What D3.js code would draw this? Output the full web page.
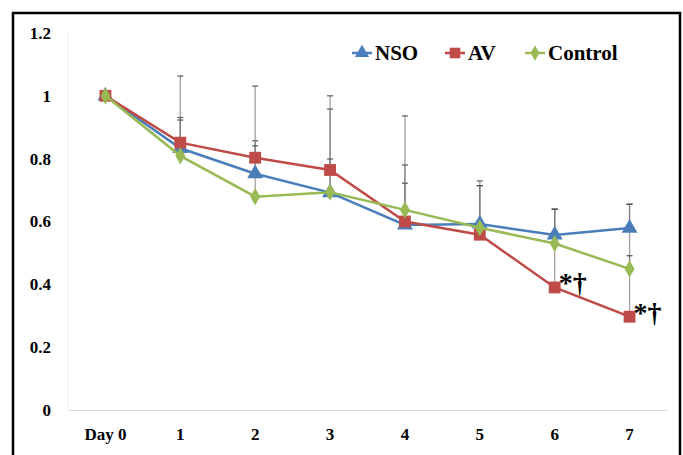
<!DOCTYPE html>
<html>
<head>
<meta charset="utf-8">
<script src="https://cdn.jsdelivr.net/npm/d3@7"></script>
<style>
  body { margin: 0; background: #fff; }
  text { font-family: "Liberation Serif", "Times New Roman", serif; font-weight: bold; fill: #000; }
  .tick text { font-size: 17px; }
</style>
</head>
<body>
<div id="chart"></div>
<script>
// data
const categories = ['Day 0', '1', '2', '3', '4', '5', '6', '7'];
const nso     = [1.0, 0.833, 0.752, 0.692, 0.589, 0.592, 0.557, 0.579];
const av      = [1.0, 0.851, 0.803, 0.764, 0.600, 0.558, 0.390, 0.297];
const control = [1.0, 0.809, 0.679, 0.693, 0.637, 0.580, 0.530, 0.449];
// upper error bars (SD)
const nsoSD     = [0, 0.098, 0.105, 0.266, 0.191, 0.137, 0.082, 0.076];
const avSD      = [0, 0.212, 0.228, 0.236, 0.336, 0.156, 0.249, 0.358];
const controlSD = [0, 0.114, 0.162, 0.106, 0.085, 0.134, 0.109, 0.042];
const yTicks = [0, 0.2, 0.4, 0.6, 0.8, 1, 1.2];
const marks = ['6', '7']; // AV days marked *†

const width = 683, height = 455;
const svg = d3.select('#chart').append('svg')
  .attr('width', width)
  .attr('height', height);

// outer frame
svg.append('rect')
  .attr('x', 13).attr('y', 13)
  .attr('width', 667).attr('height', 460)
  .attr('fill', 'none')
  .attr('stroke', '#000')
  .attr('stroke-width', 2.5);

const x = d3.scaleBand()
  .domain(categories)
  .range([68, 667])
  .padding(0);
const cx = d => x(d) + x.bandwidth() / 2;

const y = d3.scaleLinear()
  .domain([0, 1.2])
  .range([410, 33]);

// faint plot area edge
svg.append('line')
  .attr('x1', 68).attr('x2', 68)
  .attr('y1', 33).attr('y2', 410)
  .attr('stroke', '#eee');

// x axis
const xAxis = svg.append('g')
  .attr('transform', 'translate(0,410)')
  .call(d3.axisBottom(x).tickSize(0).tickPadding(18));
xAxis.select('.domain').attr('stroke', '#d9d9d9');
xAxis.attr('font-family', null).attr('font-size', null);

// y axis
const yAxis = svg.append('g')
  .attr('transform', 'translate(68,0)')
  .call(d3.axisLeft(y).tickValues(yTicks).tickSize(0).tickPadding(17)
    .tickFormat(d => d3.format('')(+d.toFixed(1))));
yAxis.select('.domain').remove();
yAxis.attr('font-family', null).attr('font-size', null);

const series = [
  { name: 'NSO', values: nso, sd: nsoSD, color: '#4a7ebb', shape: d3.symbolTriangle, size: 110 },
  { name: 'AV', values: av, sd: avSD, color: '#be4b48', shape: d3.symbolSquare, size: 140 },
  { name: 'Control', values: control, sd: controlSD, color: '#98b954', shape: d3.symbolDiamond, size: 85 }
];

// error bars
series.forEach(s => {
  const g = svg.append('g');
  const eb = categories.map((c, i) => ({ c, v: s.values[i], e: s.sd[i] })).filter(d => d.e > 0);
  g.selectAll('line.bar')
    .data(eb)
    .join('line')
      .attr('x1', d => cx(d.c)).attr('x2', d => cx(d.c))
      .attr('y1', d => y(d.v)).attr('y2', d => y(d.v + d.e))
      .attr('stroke', '#777')
      .attr('stroke-opacity', 0.7)
      .attr('stroke-width', 1.3);
  g.selectAll('line.cap')
    .data(eb)
    .join('line')
      .attr('x1', d => cx(d.c) - 3).attr('x2', d => cx(d.c) + 3)
      .attr('y1', d => y(d.v + d.e)).attr('y2', d => y(d.v + d.e))
      .attr('stroke', '#555')
      .attr('stroke-width', 1.2);
});

// lines and markers
const line = d3.line()
  .x((d, i) => cx(categories[i]))
  .y(d => y(d));

series.forEach(s => {
  svg.append('path')
    .datum(s.values)
    .attr('d', line)
    .attr('fill', 'none')
    .attr('stroke', s.color)
    .attr('stroke-width', 2.5);
  svg.append('g').selectAll('path')
    .data(s.values)
    .join('path')
      .attr('d', d3.symbol().type(s.shape).size(s.size))
      .attr('transform', (d, i) => `translate(${cx(categories[i])},${y(d)})`)
      .attr('fill', s.color);
});

// significance marks
svg.append('g').selectAll('text')
  .data(marks)
  .join('text')
    .attr('x', d => cx(d) + 4)
    .attr('y', d => y(av[categories.indexOf(d)]) + 5)
    .attr('font-size', 28)
    .text('*†');

// legend
const legendX = [352, 445, 525];
const legend = svg.append('g');
series.forEach((s, i) => {
  const lx = legendX[i], ly = 53;
  legend.append('line')
    .attr('x1', lx).attr('x2', lx + 20)
    .attr('y1', ly).attr('y2', ly)
    .attr('stroke', s.color).attr('stroke-width', 2.5);
  legend.append('path')
    .attr('d', d3.symbol().type(s.shape).size(s.size * 0.8))
    .attr('transform', `translate(${lx + 10},${ly})`)
    .attr('fill', s.color);
  legend.append('text')
    .attr('x', lx + 23)
    .attr('y', ly + 7)
    .attr('font-size', 21)
    .text(s.name);
});
</script>
</body>
</html>
